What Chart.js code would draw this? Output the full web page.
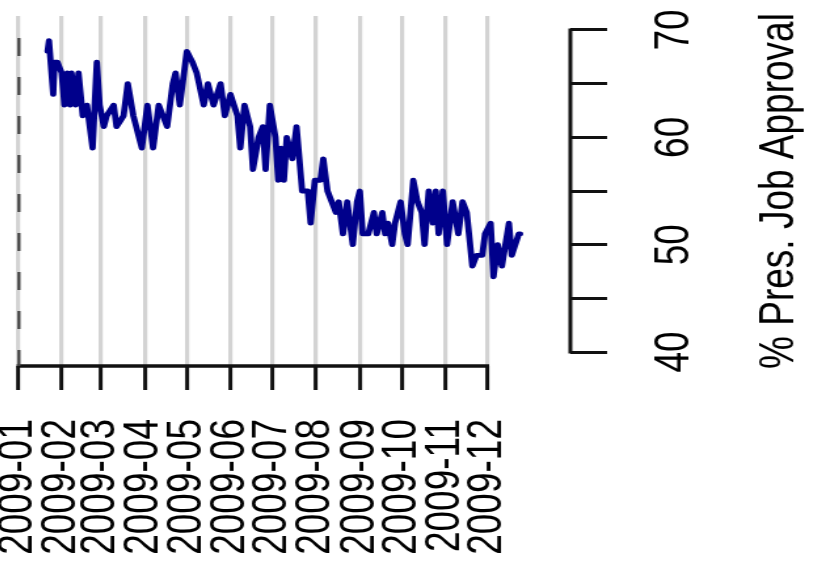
<!DOCTYPE html>
<html><head><meta charset="utf-8">
<script src="https://cdn.jsdelivr.net/npm/chart.js@4.4.1/dist/chart.umd.min.js"></script>
<style>
html,body{margin:0;padding:0;background:#fff;overflow:hidden;width:823px;height:569px;}
#wrap{position:relative;width:823px;height:569px;overflow:hidden;background:#fff;}
#c{position:absolute;left:-26px;top:-60px;}
</style></head><body>
<div id="wrap"><canvas id="c" width="650" height="629" style="width:851.5px;height:629px"></canvas></div>
<script>
// ---- data ----
const dates = ['2009-01-22','2009-01-23','2009-01-26','2009-01-27','2009-01-29','2009-02-01','2009-02-03','2009-02-05','2009-02-07','2009-02-08',
'2009-02-11','2009-02-13','2009-02-16','2009-02-19','2009-02-23','2009-02-26','2009-02-28','2009-03-03','2009-03-05','2009-03-10',
'2009-03-12','2009-03-17','2009-03-20','2009-03-24','2009-03-30','2009-04-03','2009-04-07','2009-04-11','2009-04-14','2009-04-17',
'2009-04-21','2009-04-23','2009-04-26','2009-05-01','2009-05-05','2009-05-08','2009-05-13','2009-05-16','2009-05-20','2009-05-25',
'2009-05-28','2009-06-01','2009-06-06','2009-06-08','2009-06-11','2009-06-15','2009-06-17','2009-06-21','2009-06-24','2009-06-26',
'2009-06-29','2009-07-03','2009-07-05','2009-07-07','2009-07-09','2009-07-11','2009-07-15','2009-07-18','2009-07-22','2009-07-26',
'2009-07-28','2009-07-31','2009-08-04','2009-08-06','2009-08-09','2009-08-12','2009-08-15','2009-08-17','2009-08-20','2009-08-23',
'2009-08-27','2009-08-30','2009-09-01','2009-09-03','2009-09-07','2009-09-11','2009-09-13','2009-09-17','2009-09-19','2009-09-21',
'2009-09-24','2009-09-26','2009-09-30','2009-10-03','2009-10-05','2009-10-09','2009-10-12','2009-10-15','2009-10-17','2009-10-20',
'2009-10-23','2009-10-25','2009-10-27','2009-10-30','2009-11-02','2009-11-06','2009-11-10','2009-11-13','2009-11-16','2009-11-20',
'2009-11-23','2009-11-27','2009-11-29','2009-12-03','2009-12-05','2009-12-08','2009-12-11','2009-12-16','2009-12-18','2009-12-23',
'2009-12-24'];
const approval = [68,69,64,67,67,66,63,66,63,66,
63,66,62,63,59,67,63,61,62,63,
61,62,65,62,59,63,59,63,62,61,
65,66,63,68,67,66,63,65,63,65,
62,64,62,59,63,61,57,60,61,57,
63,60,56,59,56,60,58,61,55,55,
52,56,56,58,55,54,53,54,51,54,
50,54,55,51,51,53,51,53,51,52,
50,52,54,51,50,56,54,53,50,55,
52,55,51,55,50,54,51,54,53,48,
49,49,51,52,47,50,48,52,49,51,
51];
const monthTickDates = ['2009-01-01','2009-02-01','2009-03-01','2009-04-01','2009-05-01','2009-06-01',
'2009-07-01','2009-08-01','2009-09-01','2009-10-01','2009-11-01','2009-12-01'];
const monthTickLabels = ['2009-01','2009-02','2009-03','2009-04','2009-05','2009-06',
'2009-07','2009-08','2009-09','2009-10','2009-11','2009-12'];
const yTicks = [40,45,50,55,60,65,70];
const yLabelled = [40,50,60,70];
const yTitle = '% Pres. Job Approval';

// ---- helpers ----
const dayOf = d => (Date.UTC(+d.slice(0,4), +d.slice(5,7)-1, +d.slice(8,10)) - Date.UTC(2009,0,1)) / 864e5;
const tickDays = monthTickDates.map(dayOf);
const FONT = '"Liberation Sans", Arial, Helvetica, sans-serif';
const AXIS_COLOR = '#111';
const DASH_TOP = 69.25;

const extras = {
  id: 'extras',
  afterDraw(chart) {
    const ctx = chart.ctx, xs = chart.scales.x, ys = chart.scales.y;
    ctx.save();
    ctx.strokeStyle = AXIS_COLOR;
    ctx.lineCap = 'butt';
    // bottom axis line, first to last month tick
    ctx.lineWidth = 3.5;
    ctx.beginPath();
    ctx.moveTo(xs.getPixelForValue(tickDays[0]) - 1, xs.top);
    ctx.lineTo(xs.getPixelForValue(tickDays[tickDays.length - 1]) + 1, xs.top);
    ctx.stroke();
    // right axis line, first to last tick
    ctx.lineWidth = 3;
    ctx.beginPath();
    ctx.moveTo(ys.left, ys.getPixelForValue(yTicks[0]) + 1.5);
    ctx.lineTo(ys.left, ys.getPixelForValue(yTicks[yTicks.length - 1]) - 1.5);
    ctx.stroke();
    // dashed line at the left edge
    ctx.strokeStyle = '#444';
    ctx.lineWidth = 2.3;
    ctx.setLineDash([18, 21]);
    const xd = xs.getPixelForValue(tickDays[0]) + 0.7;
    ctx.beginPath();
    ctx.moveTo(xd, ys.getPixelForValue(DASH_TOP));
    ctx.lineTo(xd, xs.top);
    ctx.stroke();
    ctx.setLineDash([]);
    // axis title, reading bottom to top
    ctx.translate(ys.right + 50, ys.getPixelForValue(55));
    ctx.rotate(-Math.PI / 2);
    ctx.font = '37px ' + FONT;
    ctx.fillStyle = '#000';
    ctx.textAlign = 'center';
    ctx.textBaseline = 'alphabetic';
    ctx.fillText(yTitle, 0, 0);
    ctx.restore();
  }
};

new Chart(document.getElementById('c'), {
  type: 'line',
  data: {
    datasets: [{
      data: dates.map((d, i) => ({ x: dayOf(d), y: approval[i] })),
      borderColor: '#00008B',
      borderWidth: 4.8,
      pointRadius: 0,
      tension: 0,
      fill: false,
      borderJoinStyle: 'round',
      borderCapStyle: 'round'
    }]
  },
  options: {
    responsive: false,
    animation: false,
    devicePixelRatio: 1,
    layout: { padding: { left: 33.59, top: 76, right: 75.04, bottom: 0 } },
    plugins: { legend: { display: false }, tooltip: { enabled: false } },
    scales: {
      x: {
        type: 'linear',
        position: 'bottom',
        min: 0,
        max: 392.67,
        afterBuildTicks: s => { s.ticks = tickDays.map(v => ({ value: v })); },
        afterFit: s => { s.height = 203; },
        border: { display: false },
        grid: { color: '#d3d3d3', lineWidth: 3.2, drawTicks: true, tickLength: 24, tickColor: AXIS_COLOR, tickWidth: 3 },
        ticks: {
          autoSkip: false, minRotation: 90, maxRotation: 90, padding: 29, color: '#000',
          font: { family: FONT, size: 37 },
          callback: (v, i) => monthTickLabels[i]
        }
      },
      y: {
        type: 'linear',
        position: 'right',
        min: 38.696,
        max: 71.304,
        afterBuildTicks: s => { s.ticks = yTicks.map(v => ({ value: v })); },
        afterFit: s => { s.width = 120; },
        border: { display: false },
        grid: { drawOnChartArea: false, drawTicks: true, tickLength: 28, color: AXIS_COLOR, lineWidth: 3 },
        ticks: {
          minRotation: 90, maxRotation: 90, crossAlign: 'center', padding: 31.5, color: '#000',
          font: { family: FONT, size: 37 },
          callback: v => yLabelled.includes(v) ? String(v) : ''
        }
      }
    }
  },
  plugins: [extras]
});
</script>
</body></html>
